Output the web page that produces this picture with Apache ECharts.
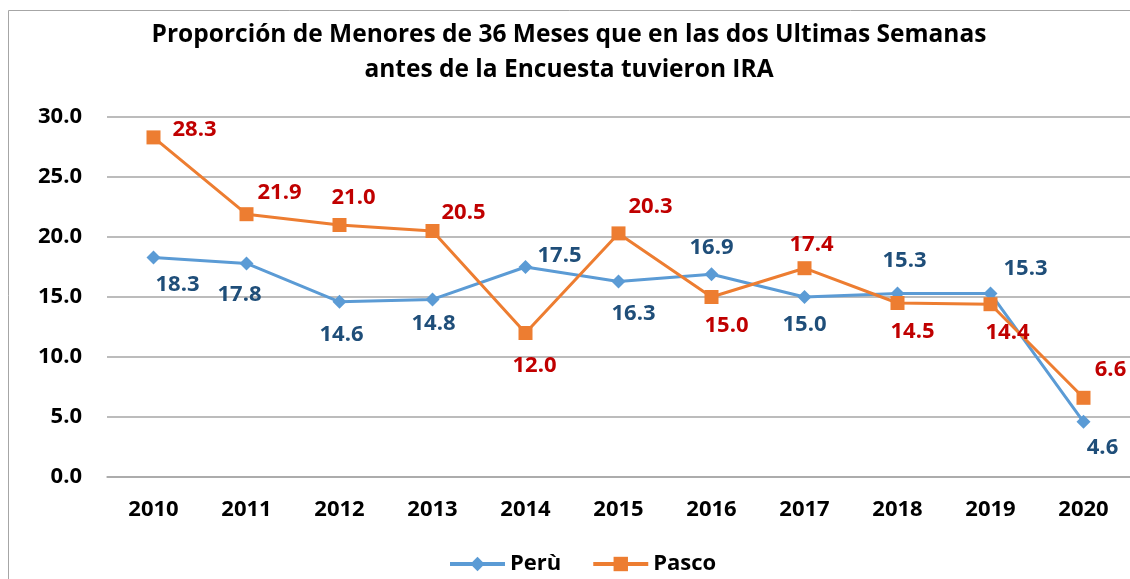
<!DOCTYPE html>
<html><head><meta charset="utf-8">
<script src="https://cdn.jsdelivr.net/npm/echarts@6/dist/echarts.min.js"></script>
<style>html,body{margin:0;padding:0;background:#fff}#c{width:1130px;height:579px}</style>
</head><body><div id="c"></div>
<script>
const years = ['2010','2011','2012','2013','2014','2015','2016','2017','2018','2019','2020'];
const peru = [18.3, 17.8, 14.6, 14.8, 17.5, 16.3, 16.9, 15.0, 15.3, 15.3, 4.6];
const pasco = [28.3, 21.9, 21.0, 20.5, 12.0, 20.3, 15.0, 17.4, 14.5, 14.4, 6.6];
const yTicks = [0, 5, 10, 15, 20, 25, 30];

// label placement (layout only)
const peruOffsets = [[24,27],[-7,31],[2,33],[1,24],[34,-11],[15,32],[0,-26],[0,28],[7,-33],[35,-25],[19,26]];
const pascoOffsets = [[41,-8],[33,-21],[14,-27],[31,-18],[9,33],[32,-27],[15,29],[7,-23],[15,29],[17,29],[27,-28]];

const FONT = 'Open Sans';
function mk(vals, offs, color) {
  return vals.map((v, i) => ({
    value: v,
    label: { show: true, position: 'inside', offset: offs[i], color: color,
      fontFamily: FONT, fontWeight: 'bold', fontSize: 22,
      formatter: p => p.value.toFixed(1) }
  }));
}
const chart = echarts.init(document.getElementById('c'), null, {renderer: 'canvas'});
chart.setOption({
  animation: false,
  backgroundColor: '#fff',
  graphic: [{ type: 'rect', shape: { x: 8.5, y: 10.5, width: 1200, height: 700 },
    style: { fill: 'none', stroke: '#A6A6A6', lineWidth: 1 }, z: -1 }],
  title: {
    text: 'Proporción de Menores de 36 Meses que en las dos Ultimas Semanas\nantes de la Encuesta tuvieron IRA',
    left: 564, top: 13, textAlign: 'center',
    textStyle: { fontFamily: FONT, fontWeight: 'bold', fontSize: 24.5, color: '#000', lineHeight: 35 }
  },
  legend: {
    bottom: -1, left: 443,
    itemWidth: 55, itemHeight: 18, itemGap: 30,
    lineStyle: { width: 4 },
    textStyle: { fontFamily: FONT, fontWeight: 'bold', fontSize: 22, color: '#000' },
    data: ['Perù', 'Pasco']
  },
  grid: { left: 107, right: -10, top: 117, height: 360, containLabel: false },
  xAxis: {
    type: 'category', data: years, boundaryGap: true,
    axisLine: { lineStyle: { color: '#A6A6A6', width: 1.5 } },
    axisTick: { show: false },
    axisLabel: { fontFamily: FONT, fontWeight: 'bold', fontSize: 22, color: '#000', margin: 22 }
  },
  yAxis: {
    type: 'value', min: 0, max: 30, interval: 5,
    axisLine: { show: false }, axisTick: { show: false },
    splitLine: { lineStyle: { color: '#A6A6A6', width: 1.5 } },
    axisLabel: { fontFamily: FONT, fontWeight: 'bold', fontSize: 22, color: '#000', margin: 25,
      formatter: v => yTicks.includes(v) ? v.toFixed(1) : '' }
  },
  series: [
    { name: 'Perù', type: 'line', data: mk(peru, peruOffsets, '#1F4E79'),
      symbol: 'diamond', symbolSize: 14, lineStyle: { color: '#5B9BD5', width: 3 },
      itemStyle: { color: '#5B9BD5' }, z: 3 },
    { name: 'Pasco', type: 'line', data: mk(pasco, pascoOffsets, '#C00000'),
      symbol: 'rect', symbolSize: 14, lineStyle: { color: '#ED7D31', width: 3 },
      itemStyle: { color: '#ED7D31' }, z: 4 }
  ]
});
</script></body></html>
